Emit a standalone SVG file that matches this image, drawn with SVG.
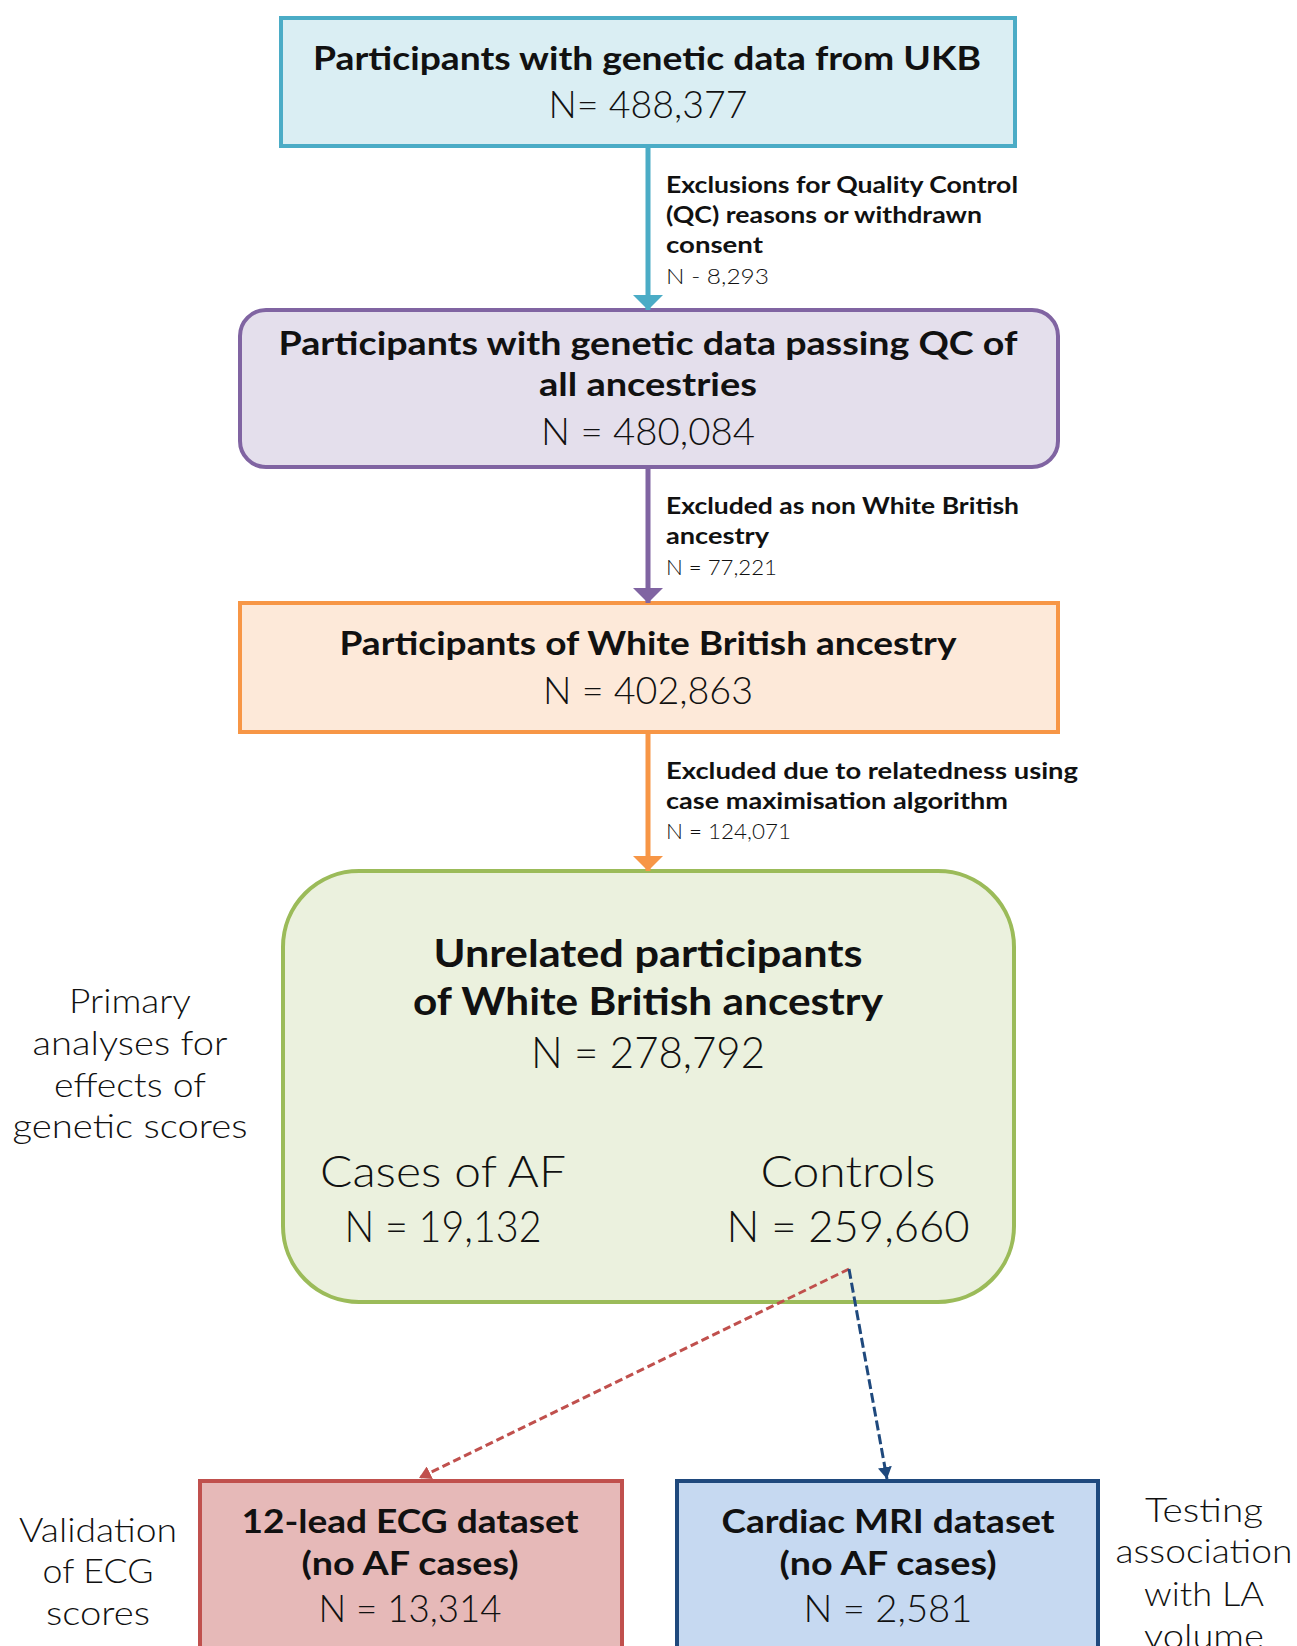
<svg xmlns="http://www.w3.org/2000/svg" width="1297" height="1646" viewBox="0 0 1297 1646">
<style>
text{font-family:Lato,"Open Sans","Liberation Sans",sans-serif;fill:#111}
.h{font-weight:700;font-size:32px;text-anchor:middle}
.n{font-weight:300;font-size:37px;text-anchor:middle}
.s{font-weight:700;font-size:22px}
.sn{font-weight:300;font-size:22px}
.side{font-weight:300;font-size:33px;text-anchor:middle}
.g{font-size:38px}
.big{font-size:43px}
</style>
<defs>
<marker id="aBlue" markerWidth="15" markerHeight="30" refX="15" refY="15" orient="auto" markerUnits="userSpaceOnUse"><path d="M0,0 L15,15 L0,30 z" fill="#4BACC6"/></marker>
<marker id="aPurple" markerWidth="15" markerHeight="30" refX="15" refY="15" orient="auto" markerUnits="userSpaceOnUse"><path d="M0,0 L15,15 L0,30 z" fill="#8064A2"/></marker>
<marker id="aOrange" markerWidth="15" markerHeight="30" refX="15" refY="15" orient="auto" markerUnits="userSpaceOnUse"><path d="M0,0 L15,15 L0,30 z" fill="#F79646"/></marker>
<marker id="aRed" markerWidth="12" markerHeight="14" refX="12" refY="7" orient="auto" markerUnits="userSpaceOnUse"><path d="M0,0 L12,7 L0,14 z" fill="#C0504D"/></marker>
<marker id="aNavy" markerWidth="12" markerHeight="14" refX="12" refY="7" orient="auto" markerUnits="userSpaceOnUse"><path d="M0,0 L12,7 L0,14 z" fill="#1F497D"/></marker>
</defs>
<rect width="1297" height="1646" fill="#fff"/>

<g id="node-ukb">
<rect x="281" y="18" width="734" height="128" fill="#DAEEF3" stroke="#4BACC6" stroke-width="4"/>
<text class="h" x="647" y="70" textLength="668" lengthAdjust="spacingAndGlyphs">Participants with genetic data from UKB</text>
<text class="n" x="648" y="118" textLength="199" lengthAdjust="spacingAndGlyphs">N= 488,377</text>
</g>

<g id="node-qc">
<rect x="240" y="310" width="818" height="157" rx="26" fill="#E4DFEC" stroke="#8064A2" stroke-width="4"/>
<text class="h" x="648" y="355" textLength="739" lengthAdjust="spacingAndGlyphs">Participants with genetic data passing QC of</text>
<text class="h" x="648" y="396" textLength="218" lengthAdjust="spacingAndGlyphs">all ancestries</text>
<text class="n" x="648" y="445" textLength="214" lengthAdjust="spacingAndGlyphs">N = 480,084</text>
</g>

<g id="node-wb">
<rect x="240" y="603" width="818" height="129" fill="#FDE9D9" stroke="#F79646" stroke-width="4"/>
<text class="h" x="648" y="655" textLength="617" lengthAdjust="spacingAndGlyphs">Participants of White British ancestry</text>
<text class="n" x="648" y="704" textLength="210" lengthAdjust="spacingAndGlyphs">N = 402,863</text>
</g>

<g id="node-unrelated">
<rect x="283" y="871" width="731" height="431" rx="76" fill="#EBF1DE" stroke="#9BBB59" stroke-width="4"/>
<text class="h g" x="648" y="967" textLength="429" lengthAdjust="spacingAndGlyphs">Unrelated participants</text>
<text class="h g" x="648" y="1015" textLength="470" lengthAdjust="spacingAndGlyphs">of White British ancestry</text>
<text class="n big" x="648" y="1068" textLength="234" lengthAdjust="spacingAndGlyphs">N = 278,792</text>
<text class="n big" x="443" y="1187" textLength="246" lengthAdjust="spacingAndGlyphs">Cases of AF</text>
<text class="n big" x="443" y="1242" textLength="197" lengthAdjust="spacingAndGlyphs">N = 19,132</text>
<text class="n big" x="848" y="1187" textLength="175" lengthAdjust="spacingAndGlyphs">Controls</text>
<text class="n big" x="848" y="1242" textLength="243" lengthAdjust="spacingAndGlyphs">N = 259,660</text>
</g>

<g id="label-primary">
<text class="side" x="130" y="1013" textLength="122" lengthAdjust="spacingAndGlyphs">Primary</text>
<text class="side" x="130" y="1055" textLength="195" lengthAdjust="spacingAndGlyphs">analyses for</text>
<text class="side" x="130" y="1097" textLength="152" lengthAdjust="spacingAndGlyphs">effects of</text>
<text class="side" x="130" y="1138" textLength="235" lengthAdjust="spacingAndGlyphs">genetic scores</text>
</g>

<g id="node-ecg">
<rect x="200" y="1481" width="422" height="180" fill="#E6B9B8" stroke="#C0504D" stroke-width="4"/>
<text class="h" x="410" y="1533" textLength="337" lengthAdjust="spacingAndGlyphs">12-lead ECG dataset</text>
<text class="h" x="410" y="1575" textLength="217" lengthAdjust="spacingAndGlyphs">(no AF cases)</text>
<text class="n" x="410" y="1622" textLength="183" lengthAdjust="spacingAndGlyphs">N =  13,314</text>
</g>

<g id="node-mri">
<rect x="677" y="1481" width="421" height="180" fill="#C6D9F1" stroke="#1F497D" stroke-width="4"/>
<text class="h" x="888" y="1533" textLength="333" lengthAdjust="spacingAndGlyphs">Cardiac MRI dataset</text>
<text class="h" x="888" y="1575" textLength="217" lengthAdjust="spacingAndGlyphs">(no AF cases)</text>
<text class="n" x="888" y="1622" textLength="169" lengthAdjust="spacingAndGlyphs">N =  2,581</text>
</g>

<g id="label-validation">
<text class="side" x="98" y="1542" textLength="158" lengthAdjust="spacingAndGlyphs">Validation</text>
<text class="side" x="98" y="1583" textLength="111" lengthAdjust="spacingAndGlyphs">of ECG</text>
<text class="side" x="98" y="1625" textLength="104" lengthAdjust="spacingAndGlyphs">scores</text>
</g>

<g id="label-testing">
<text class="side" x="1204" y="1522" textLength="118" lengthAdjust="spacingAndGlyphs">Testing</text>
<text class="side" x="1204" y="1563" textLength="177" lengthAdjust="spacingAndGlyphs">association</text>
<text class="side" x="1204" y="1606" textLength="120" lengthAdjust="spacingAndGlyphs">with LA</text>
<text class="side" x="1204" y="1648" textLength="120" lengthAdjust="spacingAndGlyphs">volume</text>
</g>

<g id="connectors">
<line x1="648" y1="148" x2="648" y2="310" stroke="#4BACC6" stroke-width="5" marker-end="url(#aBlue)"/>
<line x1="648" y1="469" x2="648" y2="603" stroke="#8064A2" stroke-width="5" marker-end="url(#aPurple)"/>
<line x1="648" y1="734" x2="648" y2="871" stroke="#F79646" stroke-width="5" marker-end="url(#aOrange)"/>
<line x1="849" y1="1269" x2="419" y2="1478" stroke="#C0504D" stroke-width="3" stroke-dasharray="8 4" marker-end="url(#aRed)"/>
<line x1="849" y1="1269" x2="887" y2="1479" stroke="#1F497D" stroke-width="3" stroke-dasharray="10 4" marker-end="url(#aNavy)"/>
</g>

<g id="edge-labels">
<text class="s" x="666" y="193" textLength="352" lengthAdjust="spacingAndGlyphs">Exclusions for Quality Control</text>
<text class="s" x="666" y="223" textLength="316" lengthAdjust="spacingAndGlyphs">(QC) reasons or withdrawn</text>
<text class="s" x="666" y="253" textLength="97" lengthAdjust="spacingAndGlyphs">consent</text>
<text class="sn" x="666" y="284" textLength="103" lengthAdjust="spacingAndGlyphs">N - 8,293</text>
<text class="s" x="666" y="514" textLength="353" lengthAdjust="spacingAndGlyphs">Excluded as non White British</text>
<text class="s" x="666" y="544" textLength="103" lengthAdjust="spacingAndGlyphs">ancestry</text>
<text class="sn" x="666" y="575" textLength="111" lengthAdjust="spacingAndGlyphs">N = 77,221</text>
<text class="s" x="666" y="779" textLength="412" lengthAdjust="spacingAndGlyphs">Excluded due to relatedness using</text>
<text class="s" x="666" y="809" textLength="342" lengthAdjust="spacingAndGlyphs">case maximisation algorithm</text>
<text class="sn" x="666" y="839" textLength="125" lengthAdjust="spacingAndGlyphs">N = 124,071</text>
</g>
</svg>
